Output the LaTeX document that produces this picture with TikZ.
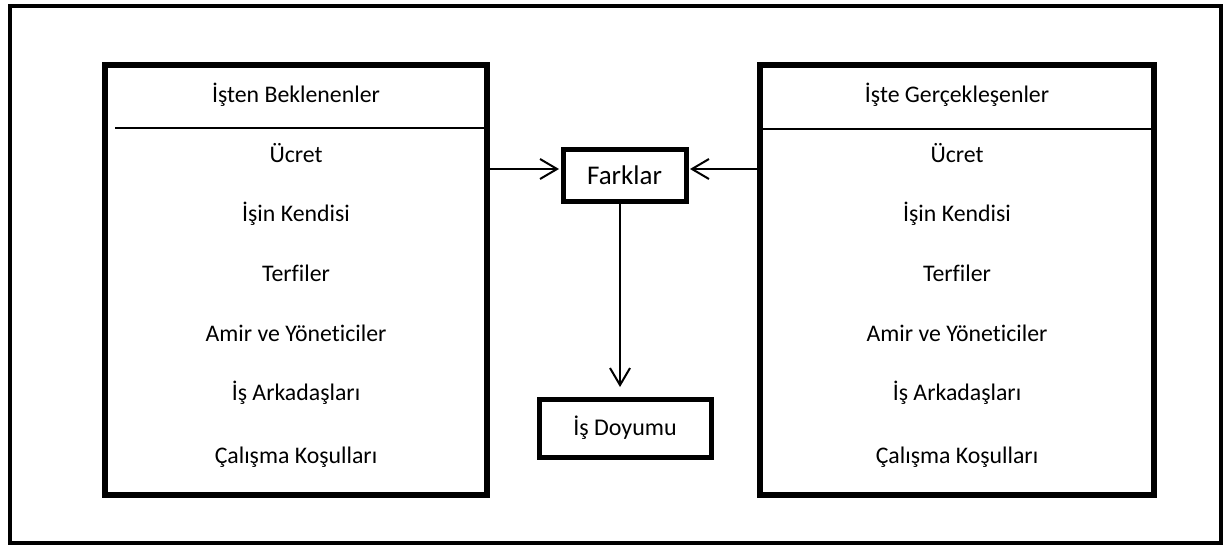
\documentclass[tikz,border=0pt]{standalone}
\usepackage{fontspec}
\setmainfont{Carlito}[Ligatures=NoCommon]
\usetikzlibrary{arrows.meta}
\begin{document}
\begin{tikzpicture}[x=1pt,y=-1pt,
  frame/.style={draw, line width=4pt},
  bigbox/.style={draw, line width=6pt, outer sep=0pt, inner sep=0pt},
  smallbox/.style={draw, line width=5pt, outer sep=0pt, inner sep=0pt, font=\fontsize{24}{28}\selectfont},
  lbl/.style={anchor=base, inner sep=0pt, font=\fontsize{23.8}{28}\selectfont},
  divider/.style={line width=1.6pt},
  arr/.style={line width=2pt, -{Straight Barb[length=17pt,width=20pt,line width=2pt]}}
]
\useasboundingbox (0,0) rectangle (1228,547);
\draw[frame] (9.5,6) rectangle (1221,543);

\node[bigbox, minimum width=382pt, minimum height=430pt] (L) at (296,280) {};
\node[bigbox, minimum width=394pt, minimum height=430pt] (R) at (957,280) {};
\node[smallbox, minimum width=123pt, minimum height=52pt, font=\fontsize{27}{32}\selectfont] (F) at (624.5,175) {Farklar};
\node[smallbox, minimum width=172pt, minimum height=58pt] (D) at (625,428) {İş Doyumu};

\draw[divider] (115,128) -- (L.east |- 0,128);
\draw[divider] (R.west |- 0,129) -- (R.east |- 0,129);

\node[lbl] (L0) at (296,102) {İşten Beklenenler};
\node[lbl] (L1) at (296,162) {Ücret};
\node[lbl] (L2) at (296,221) {İşin Kendisi};
\node[lbl] (L3) at (296,281) {Terfiler};
\node[lbl] (L4) at (296,341) {Amir ve Yöneticiler};
\node[lbl] (L5) at (296,400) {İş Arkadaşları};
\node[lbl] (L6) at (296,463) {Çalışma Koşulları};

\node[lbl] (R0) at (957,102) {İşte Gerçekleşenler};
\node[lbl] (R1) at (957,162) {Ücret};
\node[lbl] (R2) at (957,221) {İşin Kendisi};
\node[lbl] (R3) at (957,281) {Terfiler};
\node[lbl] (R4) at (957,341) {Amir ve Yöneticiler};
\node[lbl] (R5) at (957,400) {İş Arkadaşları};
\node[lbl] (R6) at (957,463) {Çalışma Koşulları};

\coordinate (FL) at ([xshift=-4pt,yshift=6pt]F.west);
\coordinate (FR) at ([xshift=4pt,yshift=6pt]F.east);
\draw[arr] (L.east |- FL) -- (FL);
\draw[arr] (R.west |- FR) -- (FR);
\coordinate (FS) at ([xshift=-4.5pt]F.south);
\coordinate (DN) at ([yshift=12pt]D.north);
\draw[arr] (FS) -- (FS |- DN);
\end{tikzpicture}
\end{document}
